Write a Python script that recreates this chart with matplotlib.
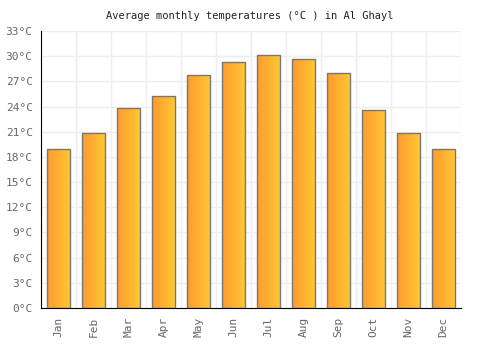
import matplotlib
matplotlib.use("Agg")
import matplotlib.pyplot as plt
import numpy as np
from matplotlib.colors import LinearSegmentedColormap

months = ["Jan", "Feb", "Mar", "Apr", "May", "Jun", "Jul", "Aug", "Sep", "Oct", "Nov", "Dec"]
temps = [18.9, 20.9, 23.8, 25.3, 27.8, 29.3, 30.2, 29.7, 28.0, 23.6, 20.9, 18.9]
yticks = [0, 3, 6, 9, 12, 15, 18, 21, 24, 27, 30, 33]
title = "Average monthly temperatures (°C ) in Al Ghayl"

plt.rcParams['font.family'] = ['DejaVu Sans Mono']
fig = plt.figure(figsize=(5, 3.5), dpi=100)
ax = fig.add_axes([41/500, 1-308/350, 420/500, 277/350])

cmap = LinearSegmentedColormap.from_list("g", ["#FF9A30", "#FFC933"])
grad = np.linspace(0, 1, 64).reshape(1, -1)
x = np.arange(len(months))
bars = ax.bar(x, temps, width=0.66, facecolor="none", edgecolor="#777777", linewidth=1.0, zorder=3)
for b in bars:
    x0, y0, w, h = b.get_x(), b.get_y(), b.get_width(), b.get_height()
    im = ax.imshow(grad, cmap=cmap, extent=[x0, x0 + w, y0, y0 + h], aspect="auto", zorder=2)
    im.set_clip_path(b)

ax.set_xlim(-0.5, len(months) - 0.5)
ax.set_ylim(0, 33)
ax.set_yticks(yticks)
ax.set_yticklabels([f"{v}°C" for v in yticks])
ax.set_xticks(x)
ax.set_xticklabels(months, rotation=90)
ax.set_xticks(np.arange(-0.5, len(months), 1), minor=True)
ax.grid(True, which="minor", axis="x", color="#EEEEEE", linewidth=1, zorder=0)
ax.grid(True, which="major", axis="y", color="#EEEEEE", linewidth=1, zorder=0)
ax.tick_params(axis="both", which="both", length=0, labelsize=8, labelcolor="#666666")
ax.tick_params(axis="y", pad=6)
ax.tick_params(axis="x", pad=6)
for s in ["top", "right"]:
    ax.spines[s].set_visible(False)
ax.spines["left"].set_color("black")
ax.spines["bottom"].set_color("black")
ax.set_axisbelow(True)
fig.text(0.5, 1 - 16/350, title, ha="center", va="center", fontsize=7.5, color="#222222")
fig.savefig("out.png", dpi=100)
